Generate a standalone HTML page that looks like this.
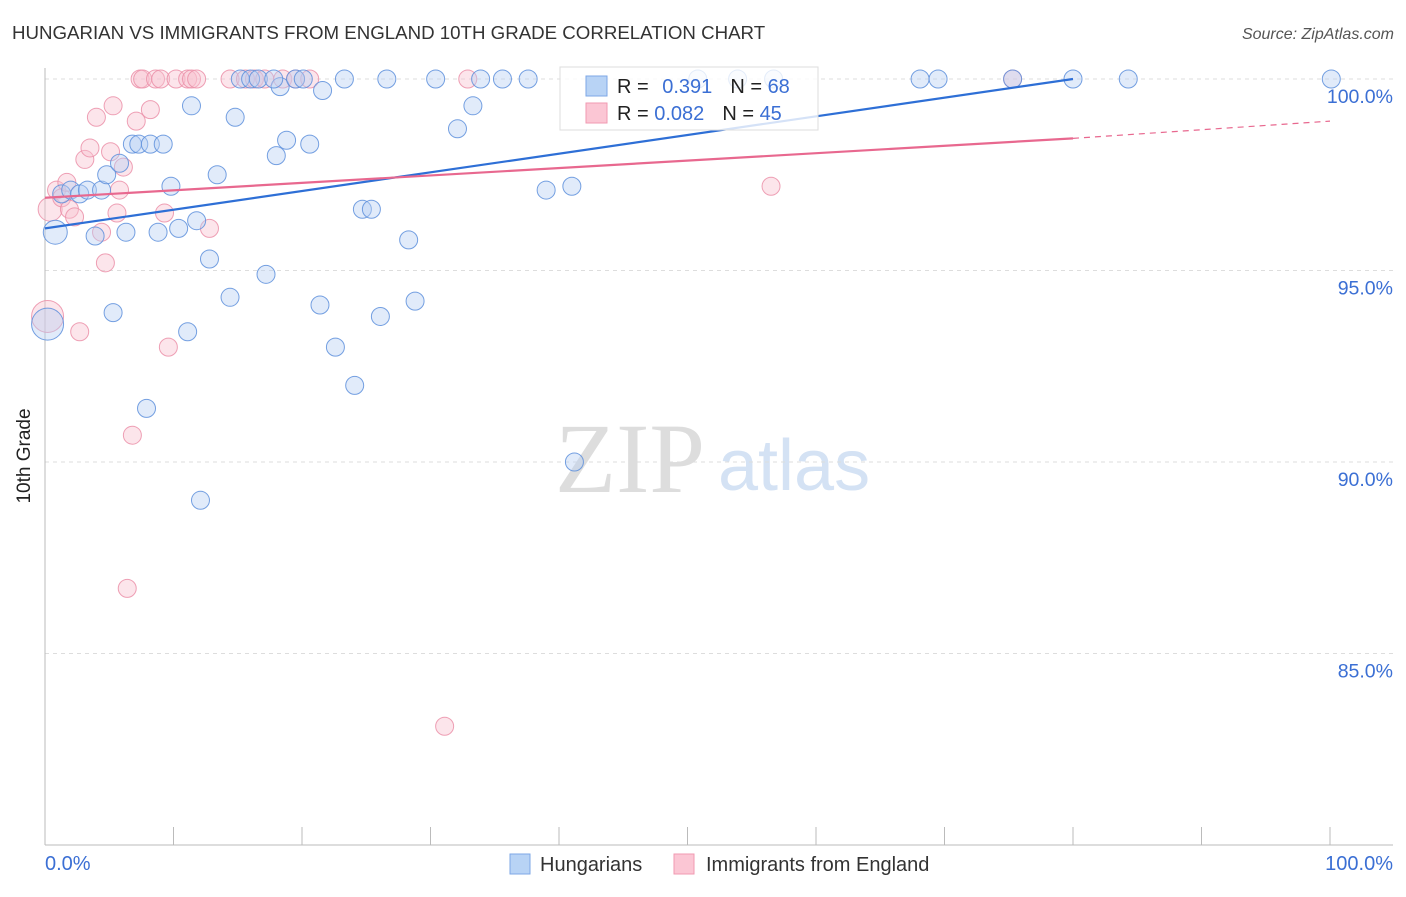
<!DOCTYPE html>
<html><head><meta charset="utf-8"><style>
body{margin:0;background:#fff;font-family:"Liberation Sans",sans-serif}
</style></head><body>
<svg width="1406" height="892" viewBox="0 0 1406 892" xmlns="http://www.w3.org/2000/svg">
<text x="12" y="39" font-size="18.7" fill="#333">HUNGARIAN VS IMMIGRANTS FROM ENGLAND 10TH GRADE CORRELATION CHART</text>
<text x="1394" y="39" font-size="16" fill="#555" font-style="italic" text-anchor="end">Source: ZipAtlas.com</text>
<text x="555" y="492" font-size="100" fill="#ddd" font-family="Liberation Serif,serif">ZIP</text>
<text x="718" y="490" font-size="72" fill="#d4e2f4">atlas</text>
<g id="grid"></g>
<line x1="45" y1="68" x2="45" y2="845" stroke="#bbb"/>
<line x1="45" y1="845" x2="1393" y2="845" stroke="#bbb"/>
<g id="xticks"></g>
<text x="30" y="456" font-size="19" fill="#222" transform="rotate(-90 30 456)" text-anchor="middle">10th Grade</text>
<text x="45" y="870" font-size="20" fill="#3b6fd4">0.0%</text>
<text x="1393" y="870" font-size="20" fill="#3b6fd4" text-anchor="end">100.0%</text>
<g id="points"></g>
<g id="trends"></g>
<g>
<rect x="560" y="67" width="258" height="63" fill="#fff" fill-opacity="0.8" stroke="#ddd"/>
<rect x="586" y="76" width="21" height="20" fill="#b8d3f5" stroke="#7ea7e6"/>
<rect x="586" y="103" width="21" height="20" fill="#fbc6d4" stroke="#f09ab2"/>
<text x="617" y="93" font-size="20" fill="#222">R = <tspan fill="#3b6fd4" dx="8">0.391</tspan><tspan fill="#222" dx="18">N = </tspan><tspan fill="#3b6fd4">68</tspan></text>
<text x="617" y="120" font-size="20" fill="#222">R = <tspan fill="#3b6fd4">0.082</tspan><tspan fill="#222" dx="18">N = </tspan><tspan fill="#3b6fd4">45</tspan></text>
</g>
<g>
<rect x="510" y="854" width="20" height="20" fill="#b8d3f5" stroke="#7ea7e6"/>
<text x="540" y="871" font-size="20" fill="#333">Hungarians</text>
<rect x="674" y="854" width="20" height="20" fill="#fbc6d4" stroke="#f09ab2"/>
<text x="706" y="871" font-size="20" fill="#333">Immigrants from England</text>
</g>
</svg>
<script>
const yTicks=[100,95,90,85];
const xTickVals=[0,10,20,30,40,50,60,70,80,90,100];
const blueX=[0.8,0.2,1.3,2,2.7,3.3,4.4,3.9,4.8,5.3,5.8,6.3,6.8,7.3,8.2,9.2,7.9,8.8,9.8,10.4,11.1,11.4,11.8,12.1,12.8,13.4,14.4,14.8,15.2,16,16.6,17.2,18,18.3,18.8,19.5,20.1,20.6,21.4,21.6,22.6,23.3,24.1,24.7,25.4,26.1,26.6,28.3,28.8,30.4,32.1,33.3,33.9,35.6,37.6,39,41,41.2,50.8,53.9,56.7,68.1,69.5,75.3,80,84.3,100.1,17.8];
const blueY=[96.0,93.6,97.0,97.1,97.0,97.1,97.1,95.9,97.5,93.9,97.8,96.0,98.3,98.3,98.3,98.3,91.4,96.0,97.2,96.1,93.4,99.3,96.3,89.0,95.3,97.5,94.3,99.0,100,100,100,94.9,98.0,99.8,98.4,100,100,98.3,94.1,99.7,93.0,100,92.0,96.6,96.6,93.8,100,95.8,94.2,100,98.7,99.3,100,100,100,97.1,97.2,90.0,100,100,100,100,100,100,100,100,100,100];
const blueR=[12,16,9,9,9,9,9,9,9,9,9,9,9,9,9,9,9,9,9,9,9,9,9,9,9,9,9,9,9,9,9,9,9,9,9,9,9,9,9,9,9,9,9,9,9,9,9,9,9,9,9,9,9,9,9,9,9,9,9,9,9,9,9,9,9,9,9,9];
const pinkX=[0.2,0.4,0.9,1.3,1.7,1.9,2.3,2.7,3.1,3.5,4,4.4,4.7,5.1,5.3,5.6,5.8,6.1,6.8,6.4,7.1,7.4,7.6,8.2,8.6,9,9.3,9.6,10.2,11.1,11.4,11.8,12.8,14.4,15.6,16.3,17.1,18.5,19.5,20.6,31.1,32.9,56.5,75.3];
const pinkY=[93.8,96.6,97.1,96.9,97.3,96.6,96.4,93.4,97.9,98.2,99.0,96.0,95.2,98.1,99.3,96.5,97.1,97.7,90.7,86.7,98.9,100,100,99.2,100,100,96.5,93.0,100,100,100,100,96.1,100,100,100,100,100,100,100,83.1,100,97.2,100];
const pinkR=[16,12,9,9,9,9,9,9,9,9,9,9,9,9,9,9,9,9,9,9,9,9,9,9,9,9,9,9,9,9,9,9,9,9,9,9,9,9,9,9,9,9,9,9];
const blueTrend=[[0,96.1],[80,100]];
const pinkTrend=[[0,96.9],[80,98.45]];
const pinkDashEnd=[100,98.9];
const NS='http://www.w3.org/2000/svg';
function sx(v){return 45+v*12.85;}
function sy(v){return 79+(100-v)*38.3;}
function mk(t,a,p){const e=document.createElementNS(NS,t);for(const k in a)e.setAttribute(k,a[k]);p.appendChild(e);return e;}
const grid=document.getElementById('grid');
yTicks.forEach(v=>{
 const l=mk('line',{x1:45,x2:1393,y1:sy(v),y2:sy(v),stroke:'#ddd','stroke-dasharray':'4 4'},grid);
 
 
 const t=mk('text',{x:1393,y:sy(v)+24,'font-size':19.5,fill:'#3b6fd4','text-anchor':'end'},grid);
 t.textContent=v.toFixed(1)+'%';
 
 
});
const xt=document.getElementById('xticks');
xTickVals.forEach(v=>{
 const l=mk('line',{x1:sx(v),x2:sx(v),y1:827,y2:845,stroke:'#bbb'},xt);
 
 
});
const pg=document.getElementById('points');
function pts(X,Y,R,fill,stroke,name){
 X.forEach((x,i)=>{
  const c=mk('circle',{cx:sx(x),cy:sy(Y[i]),r:R[i],fill:fill,'fill-opacity':0.42,stroke:stroke,'stroke-width':1,'stroke-opacity':0.85},pg);
  
  
 });
}
pts(pinkX,pinkY,pinkR,'#f9c0cf','#eb8fa8','england-point');
pts(blueX,blueY,blueR,'#b7d0f3','#5d8fdc','hungarian-point');
const tg=document.getElementById('trends');
let l=mk('line',{x1:sx(blueTrend[0][0]),y1:sy(blueTrend[0][1]),x2:sx(blueTrend[1][0]),y2:sy(blueTrend[1][1]),stroke:'#2e6fd6','stroke-width':2.2},tg);


l=mk('line',{x1:sx(pinkTrend[0][0]),y1:sy(pinkTrend[0][1]),x2:sx(pinkTrend[1][0]),y2:sy(pinkTrend[1][1]),stroke:'#e8688f','stroke-width':2.2},tg);


l=mk('line',{x1:sx(pinkTrend[1][0]),y1:sy(pinkTrend[1][1]),x2:sx(pinkDashEnd[0]),y2:sy(pinkDashEnd[1]),stroke:'#e8688f','stroke-width':1.2,'stroke-dasharray':'6 5'},tg);


</script>
</body></html>
